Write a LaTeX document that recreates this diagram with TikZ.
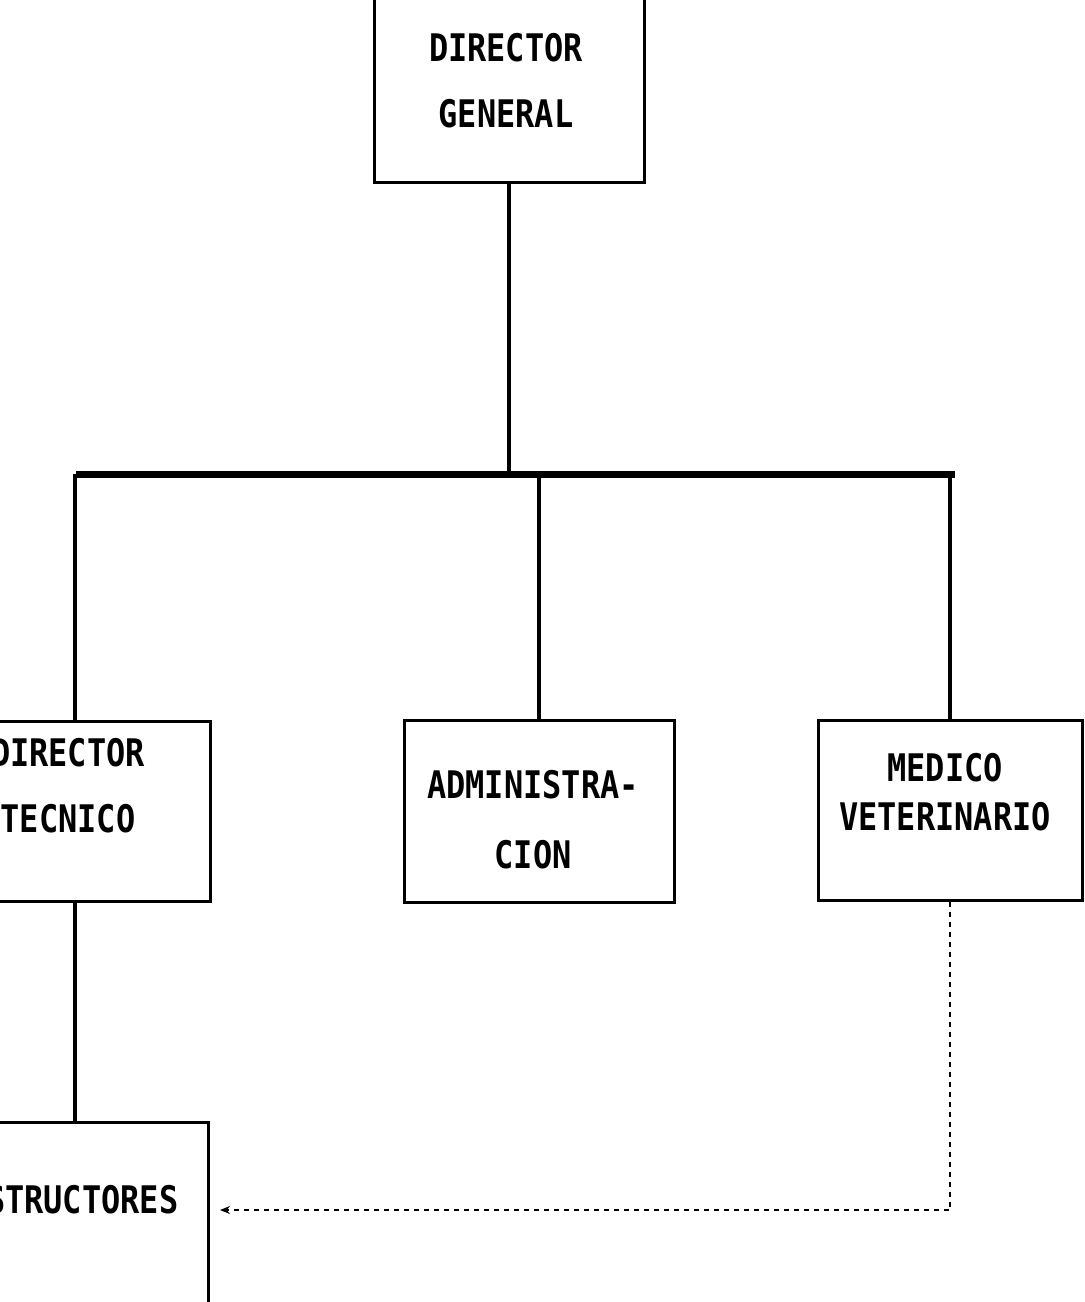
\documentclass[tikz,border=0pt]{standalone}
\usepackage{fontspec}
\newfontfamily\dotfont[FakeStretch=0.84]{DejaVu Sans Mono}
\usepackage{tikz}
\usetikzlibrary{arrows.meta}

\begin{document}
\begin{tikzpicture}[x=0.5pt,y=-0.5pt,
        box/.style={draw, line width=1.5pt, inner sep=0pt},
        txt/.style={font=\dotfont\bfseries\fontsize{19}{33}\selectfont, align=center, inner sep=0pt},
        link/.style={line width=2pt},
        bus/.style={line width=3.5pt},
        aux/.style={line width=0.7pt, dash pattern=on 2.5pt off 2.5pt, -{Stealth[length=5pt,width=4pt]}}]
        \useasboundingbox (0,0) rectangle (1084,1302);
        \clip (0,0) rectangle (1084,1302);

        %Boxes
        \node[box, minimum width=135pt, minimum height=102pt] (dg) at (509,80) {};
        \node[box, minimum width=135pt, minimum height=90pt] (tec) at (75,811) {};
        \node[box, minimum width=135pt, minimum height=91pt] (adm) at (539,811) {};
        \node[box, minimum width=132pt, minimum height=90pt] (med) at (950,810) {};
        \node[box, minimum width=134pt, minimum height=100pt] (ins) at (74,1222) {};

        %Texts
        \node[txt] (dgT) at (506,81) {DIRECTOR\\GENERAL};
        \node[txt] (tecT) at (68,786) {DIRECTOR\\TECNICO};
        \node[txt] (admT) at (533,820) {ADMINISTRA-\\[2pt]CION};
        \node[txt] (medT) at (945,792) {MEDICO\\[-8.5pt]VETERINARIO};
        \node[txt] (insT) at (63,1200) {INSTRUCTORES};

        %Lines
        \coordinate (busL) at (76,474);
        \coordinate (busR) at (955,474);
        \draw[bus] (busL) -- (busR);
        \draw[link] (dg.south) -- (dg.south |- busL);
        \draw[link] (tec.north |- busL) -- (tec.north);
        \draw[link] (adm.north |- busL) -- (adm.north);
        \draw[link] (med.north |- busR) -- (med.north);
        \draw[link] (tec.south) -- (tec.south |- ins.north);

        %Dotted link
        \coordinate (tip) at (220,1210);
        \draw[aux] (med.south) |- (tip);
    \end{tikzpicture}
\end{document}
